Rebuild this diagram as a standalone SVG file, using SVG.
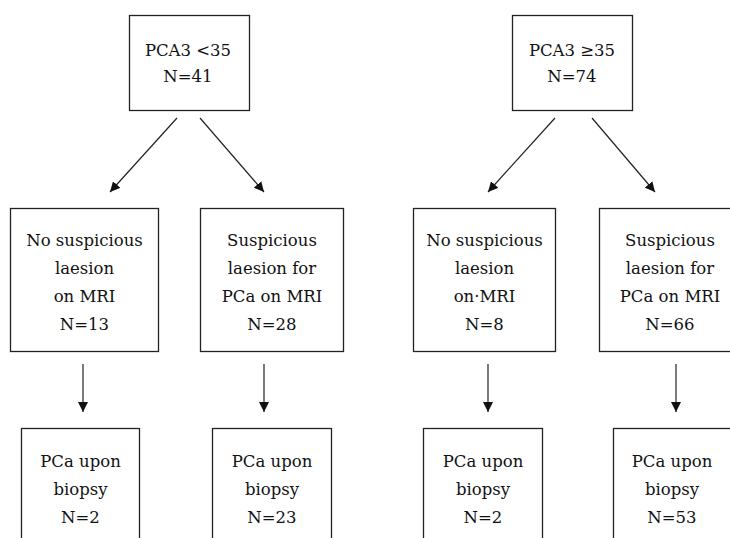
<svg xmlns="http://www.w3.org/2000/svg" width="730" height="538" viewBox="0 0 730 538">
<style>
.box{fill:#fff;stroke:#222;stroke-width:1.3}
.t text{font-size:16.5px;fill:#111;text-anchor:middle}
.c line{stroke:#222;stroke-width:1.2}
</style>
<defs>
<marker id="ah" viewBox="0 0 10 10" refX="10" refY="5" markerWidth="10" markerHeight="10" markerUnits="userSpaceOnUse" orient="auto">
<path d="M0,0 L10,5 L0,10 Z" fill="#111"/>
</marker>
</defs>
<rect width="730" height="538" fill="#fff"/>
<g class="t" font-family="DejaVu Serif, Liberation Serif, serif">
<g id="top1"><rect class="box" x="129.5" y="15.5" width="120" height="95"/><text x="188" y="56">PCA3 &lt;35</text><text x="188" y="82">N=41</text></g>
<g id="top2"><rect class="box" x="512.5" y="15.5" width="120" height="95"/><text x="572" y="56">PCA3 ≥35</text><text x="572" y="82">N=74</text></g>
<g id="mid1"><rect class="box" x="10.5" y="208.5" width="148" height="143"/><text x="84.5" y="246">No suspicious</text><text x="84.5" y="274">laesion</text><text x="84.5" y="302">on MRI</text><text x="84.5" y="330">N=13</text></g>
<g id="mid2"><rect class="box" x="200.5" y="208.5" width="143" height="143"/><text x="272" y="246">Suspicious</text><text x="272" y="274">laesion for</text><text x="272" y="302">PCa on MRI</text><text x="272" y="330">N=28</text></g>
<g id="mid3"><rect class="box" x="413.5" y="208.5" width="142" height="143"/><text x="484.5" y="246">No suspicious</text><text x="484.5" y="274">laesion</text><text x="484.5" y="302">on·MRI</text><text x="484.5" y="330">N=8</text></g>
<g id="mid4"><rect class="box" x="599.5" y="208.5" width="142" height="143"/><text x="670" y="246">Suspicious</text><text x="670" y="274">laesion for</text><text x="670" y="302">PCa on MRI</text><text x="670" y="330">N=66</text></g>
<g id="bot1"><rect class="box" x="21.5" y="428.5" width="118" height="120"/><text x="80.5" y="467">PCa upon</text><text x="80.5" y="495">biopsy</text><text x="80.5" y="523">N=2</text></g>
<g id="bot2"><rect class="box" x="212.5" y="428.5" width="119" height="120"/><text x="272" y="467">PCa upon</text><text x="272" y="495">biopsy</text><text x="272" y="523">N=23</text></g>
<g id="bot3"><rect class="box" x="423.5" y="428.5" width="119" height="120"/><text x="483" y="467">PCa upon</text><text x="483" y="495">biopsy</text><text x="483" y="523">N=2</text></g>
<g id="bot4"><rect class="box" x="613.5" y="428.5" width="130" height="120"/><text x="672" y="467">PCa upon</text><text x="672" y="495">biopsy</text><text x="672" y="523">N=53</text></g>
</g>
<g id="connectors" class="c">
<line x1="177" y1="118" x2="110" y2="192" marker-end="url(#ah)"/>
<line x1="200" y1="118" x2="264" y2="192" marker-end="url(#ah)"/>
<line x1="555" y1="118" x2="488" y2="192" marker-end="url(#ah)"/>
<line x1="592" y1="118" x2="655" y2="192" marker-end="url(#ah)"/>
<line x1="83" y1="364" x2="83" y2="412" marker-end="url(#ah)"/>
<line x1="264" y1="364" x2="264" y2="412" marker-end="url(#ah)"/>
<line x1="488" y1="364" x2="488" y2="412" marker-end="url(#ah)"/>
<line x1="676" y1="364" x2="676" y2="412" marker-end="url(#ah)"/>
</g>
</svg>
